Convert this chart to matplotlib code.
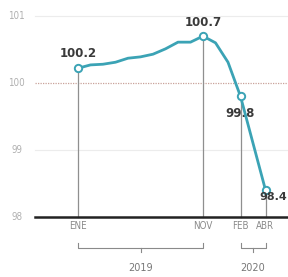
import numpy as np
import matplotlib.pyplot as plt

# monthly index values, ene 2019 - abr 2020
months = np.arange(16)
values = [100.22, 100.27, 100.28, 100.31, 100.37, 100.39, 100.43, 100.51,
          100.61, 100.61, 100.70, 100.60, 100.31, 99.80, 99.10, 98.40]

marked = [0, 10, 13, 15]
marked_labels = ["ENE", "NOV", "FEB", "ABR"]
value_labels = ["100.2", "100.7", "99.8", "98.4"]
yticks = [98, 99, 100, 101]
years = ["2019", "2020"]
year_spans = [(0, 10), (13, 15)]

teal = "#3ba3b5"
gray = "#8a8a8a"
dark = "#3a3a3a"

fig = plt.figure(figsize=(2.88, 2.77), dpi=100)
ax = fig.add_axes([0, 0, 1, 1])
ax.set_xlim(-6.24, 16.8)
ax.set_ylim(97.10, 101.24)
ax.axis("off")

# grid lines
x0 = -3.44
ax.plot([x0, 16.8], [101, 101], color="#ececec", lw=0.8, zorder=1)
ax.plot([x0, 16.8], [99, 99], color="#ececec", lw=0.8, zorder=1)
ax.plot([x0, 16.8], [100, 100], color="#c9a29a", lw=0.9, ls=(0, (1, 1)), zorder=1)
ax.plot([x0, 16.8], [98, 98], color="#222222", lw=1.8, zorder=3)

for t in yticks:
    ax.text(-4.9, t, str(t), ha="center", va="center", fontsize=7,
            color="#b0b0b0", fontstretch="condensed")

# vertical guides
for m in marked:
    ax.plot([m, m], [98, values[m]], color="#8f8f8f", lw=0.9, zorder=2)

ax.plot(months, values, color=teal, lw=2.0, zorder=4)
ax.scatter([months[m] for m in marked], [values[m] for m in marked], s=28,
           facecolor="white", edgecolor=teal, linewidth=1.4, zorder=5)

# value labels
ax.text(0, values[0] + 0.13, value_labels[0], ha="center", va="bottom",
        fontsize=8.5, fontweight="bold", color=dark)
ax.text(10, values[10] + 0.1, value_labels[1], ha="center", va="bottom",
        fontsize=8.5, fontweight="bold", color=dark)
ax.text(13.0, values[13] - 0.16, value_labels[2], ha="center", va="top",
        fontsize=8.5, fontweight="bold", color=dark)
ax.text(16.75, values[15] - 0.1, value_labels[3], ha="right", va="center",
        fontsize=8, fontweight="bold", color=dark, zorder=6)

# month labels
for m, lab in zip(marked, marked_labels):
    ax.text(m, 97.86, lab, ha="center", va="center", fontsize=7,
            color=gray, fontstretch="condensed")

# year brackets
yb = 97.54
for (a, b), yr in zip(year_spans, years):
    ax.plot([a, a, b, b], [yb + 0.07, yb, yb, yb + 0.07], color=gray, lw=0.8)
    c = (a + b) / 2
    ax.plot([c, c], [yb, yb - 0.07], color=gray, lw=0.8)
    ax.text(c, 97.24, yr, ha="center", va="center", fontsize=7, color="#777777")

fig.savefig("out.png", dpi=100)
